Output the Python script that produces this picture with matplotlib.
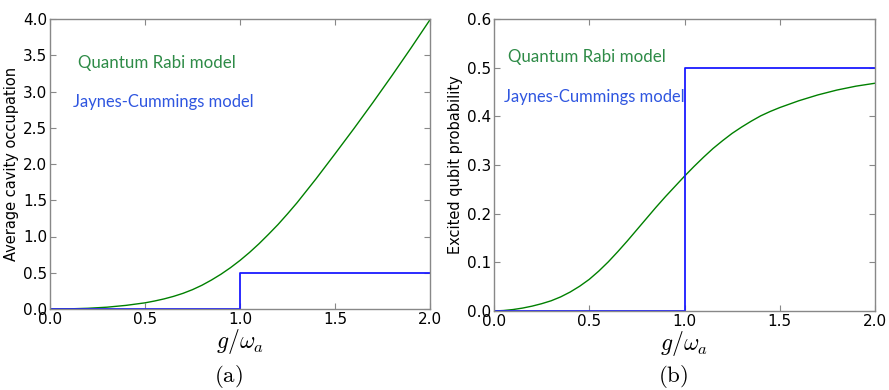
import numpy as np
import matplotlib
matplotlib.use('Agg')
import matplotlib.pyplot as plt

plt.rcParams['mathtext.fontset'] = 'cm'
plt.rcParams['font.family'] = 'DejaVu Sans'

# (a) average cavity occupation, quantum Rabi model
g_a = [0.0, 0.1, 0.2, 0.3, 0.4, 0.5, 0.55, 0.6, 0.65, 0.7, 0.75, 0.8, 0.85, 0.9, 0.95,
       1.0, 1.05, 1.1, 1.15, 1.2, 1.25, 1.3, 1.4, 1.5, 1.6, 1.7, 1.8, 1.9, 2.0]
rabi_photons = [0.0, 0.002, 0.010, 0.025, 0.050, 0.085, 0.110, 0.139, 0.174, 0.216, 0.267,
                0.328, 0.400, 0.480, 0.570, 0.670, 0.780, 0.900, 1.030, 1.165, 1.312,
                1.465, 1.795, 2.140, 2.490, 2.850, 3.220, 3.600, 3.990]

# (b) excited qubit probability, quantum Rabi model
g_b = [0.0, 0.05, 0.1, 0.15, 0.2, 0.25, 0.3, 0.35, 0.4, 0.45, 0.5, 0.55, 0.6, 0.65, 0.7,
       0.75, 0.8, 0.85, 0.9, 0.95, 1.0, 1.05, 1.1, 1.15, 1.2, 1.25, 1.3, 1.35, 1.4, 1.45,
       1.5, 1.6, 1.7, 1.8, 1.9, 2.0]
rabi_excited = [0.0, 0.001, 0.003, 0.006, 0.010, 0.015, 0.021, 0.029, 0.039, 0.051, 0.065,
                0.082, 0.101, 0.122, 0.144, 0.167, 0.190, 0.213, 0.235, 0.256, 0.277,
                0.297, 0.316, 0.334, 0.350, 0.365, 0.378, 0.390, 0.401, 0.410, 0.418,
                0.432, 0.444, 0.454, 0.462, 0.468]

# Jaynes-Cummings ground state: step at g / omega_a = 1
jc_g = [0.0, 1.0, 1.0, 2.0]
jc_photons = [0.0, 0.0, 0.5, 0.5]
jc_excited = [0.0, 0.0, 0.5, 0.5]

GREEN = '#2e8b47'
BLUE = '#2f56e0'

fig = plt.figure(figsize=(8.89, 3.9), dpi=100)
ax1 = fig.add_axes([50/889, 1 - 309/390, 380/889, 290/390])
ax2 = fig.add_axes([494/889, 1 - 311/390, 381/889, 292/390])


def style(ax):
    for s in ax.spines.values():
        s.set_color('#888888')
        s.set_linewidth(1.0)
    ax.tick_params(direction='in', top=True, right=True, length=4,
                   color='#888888', labelsize=11, pad=2)
    ax.set_xlim(0, 2)
    ax.set_xticks([0, 0.5, 1.0, 1.5, 2.0])
    ax.set_xticklabels(['0.0', '0.5', '1.0', '1.5', '2.0'])
    ax.set_xlabel(r'$g/\omega_a$', fontsize=17, labelpad=0)


ax1.plot(g_a, rabi_photons, color='green', lw=1.0)
ax1.plot(jc_g, jc_photons, color='#1a1aff', lw=1.3)
ax1.set_ylim(0, 4)
ax1.set_yticks(np.arange(0, 4.01, 0.5))
ax1.set_yticklabels([f'{v:.1f}' for v in np.arange(0, 4.01, 0.5)])
ax1.set_ylabel('Average cavity occupation', fontsize=10.5, labelpad=3)
style(ax1)

ax2.plot(g_b, rabi_excited, color='green', lw=1.0)
ax2.plot(jc_g, jc_excited, color='#1a1aff', lw=1.3)
ax2.set_ylim(0, 0.6)
ax2.set_yticks(np.arange(0, 0.61, 0.1))
ax2.set_yticklabels([f'{v:.1f}' for v in np.arange(0, 0.61, 0.1)])
ax2.set_ylabel('Excited qubit probability', fontsize=10.5, labelpad=3)
style(ax2)

# model labels
lab = dict(family='Lato', va='center', ha='left')
fig.text(78/889, 1 - 63/390, 'Quantum Rabi model', color=GREEN, fontsize=12.2, **lab)
fig.text(73/889, 1 - 102/390, 'Jaynes-Cummings model', color=BLUE, fontsize=11.9, **lab)
fig.text(508/889, 1 - 57/390, 'Quantum Rabi model', color=GREEN, fontsize=12.2, **lab)
fig.text(504/889, 1 - 97/390, 'Jaynes-Cummings model', color=BLUE, fontsize=11.9, **lab)

# panel captions
fig.text(228/889, 1 - 376/390, r'$\mathrm{(a)}$', fontsize=16.5, ha='center', va='center')
fig.text(673/889, 1 - 376/390, r'$\mathrm{(b)}$', fontsize=16.5, ha='center', va='center')

fig.savefig('out.png', dpi=100)
